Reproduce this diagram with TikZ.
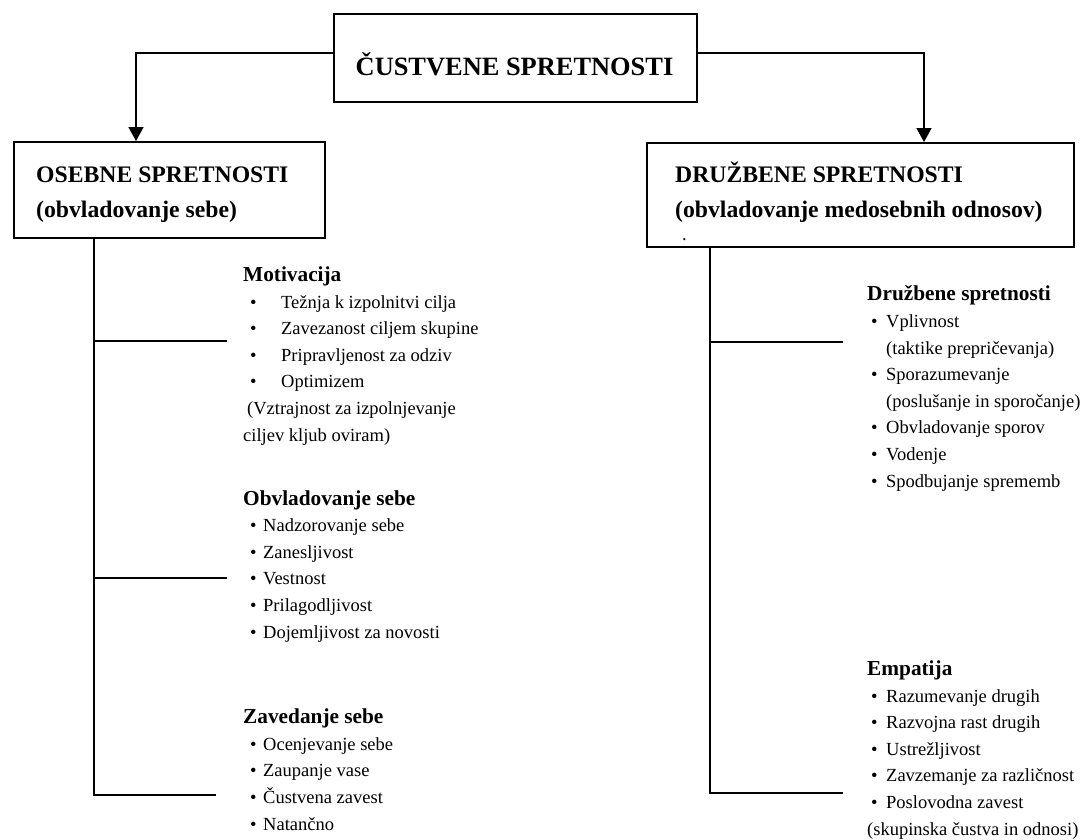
\documentclass[tikz,border=0pt]{standalone}
\usepackage{fontspec}
\setmainfont{Liberation Serif}
\usetikzlibrary{arrows.meta, positioning}

\tikzset{
  box/.style={draw, line width=1.6pt, inner sep=0pt},
  boxtext/.style={inner sep=0pt, align=left, font=\fontsize{23.7}{35}\selectfont\bfseries},
  titletext/.style={inner sep=0pt, font=\fontsize{26.4}{30}\selectfont\bfseries},
  group/.style={inner sep=0pt, align=left, anchor=base west, font=\fontsize{18.5}{26.6}\selectfont},
  conn/.style={line width=1.6pt},
  arr/.style={line width=1.6pt, -{Triangle[length=14pt,width=15pt]}}
}
\newcommand{\head}[1]{{\fontsize{21.3}{26.6}\selectfont\bfseries #1}}
\newcommand{\bul}[3]{\makebox[#2][l]{\hspace*{#1}\textbullet}#3}

\begin{document}
\begin{tikzpicture}[x=1pt,y=-1pt]
\useasboundingbox[fill=white] (0,0) rectangle (1083,839);

% boxes (text nodes sit on the baseline of their last line)
\node[box, anchor=north west, minimum width=363pt, minimum height=88pt] (custva) at (333,13) {};
\node[titletext, anchor=base] (custvaT) at (514.5,75) {ČUSTVENE SPRETNOSTI};

\node[box, anchor=north west, minimum width=311pt, minimum height=96pt] (osebne) at (13,141) {};
\node[boxtext, anchor=base west] (osebneT) at (36,217) {OSEBNE SPRETNOSTI\\(obvladovanje sebe)};

\node[box, anchor=north west, minimum width=427pt, minimum height=104pt] (druzbene) at (646,142) {};
\node[boxtext, anchor=base west] (druzbeneT) at (675,217) {DRUŽBENE SPRETNOSTI\\(obvladovanje medosebnih odnosov)};
\node[inner sep=0pt, anchor=base west, font=\fontsize{18.5}{20}\selectfont] (pika) at (682,240) {.};

% arrows from the top box
\draw[arr] ([yshift=5pt]custva.west) -| ([xshift=123pt]osebne.north west);
\draw[arr] ([yshift=5pt]custva.east) -| ([xshift=278pt]druzbene.north west);

% left column
\node[group] (motiv) at (243,441) {\head{Motivacija}\\
  \bul{7pt}{38pt}{Težnja k izpolnitvi cilja}\\
  \bul{7pt}{38pt}{Zavezanost ciljem skupine}\\
  \bul{7pt}{38pt}{Pripravljenost za odziv}\\
  \bul{7pt}{38pt}{Optimizem}\\
  \hspace*{4pt}(Vztrajnost za izpolnjevanje\\
  ciljev kljub oviram)};
\node[group] (obvlad) at (243,638) {\head{Obvladovanje sebe}\\
  \bul{7pt}{20pt}{Nadzorovanje sebe}\\
  \bul{7pt}{20pt}{Zanesljivost}\\
  \bul{7pt}{20pt}{Vestnost}\\
  \bul{7pt}{20pt}{Prilagodljivost}\\
  \bul{7pt}{20pt}{Dojemljivost za novosti}};
\node[group] (zaved) at (243,830) {\head{Zavedanje sebe}\\
  \bul{7pt}{20pt}{Ocenjevanje sebe}\\
  \bul{7pt}{20pt}{Zaupanje vase}\\
  \bul{7pt}{20pt}{Čustvena zavest}\\
  \bul{7pt}{20pt}{Natančno}};

% right column
\node[group] (druzsp) at (867,487) {\head{Družbene spretnosti}\\
  \bul{4pt}{19pt}{Vplivnost}\\
  \hspace*{19pt}(taktike prepričevanja)\\
  \bul{4pt}{19pt}{Sporazumevanje}\\
  \hspace*{19pt}(poslušanje in sporočanje)\\
  \bul{4pt}{19pt}{Obvladovanje sporov}\\
  \bul{4pt}{19pt}{Vodenje}\\
  \bul{4pt}{19pt}{Spodbujanje sprememb}};
\node[group] (empat) at (867,835) {\head{Empatija}\\
  \bul{4pt}{19pt}{Razumevanje drugih}\\
  \bul{4pt}{19pt}{Razvojna rast drugih}\\
  \bul{4pt}{19pt}{Ustrežljivost}\\
  \bul{4pt}{19pt}{Zavzemanje za različnost}\\
  \bul{4pt}{19pt}{Poslovodna zavest}\\
  (skupinska čustva in odnosi)};

% tree lines
\coordinate (ltrunk) at (94,795);
\coordinate (lb1) at (227,341);
\coordinate (lb2) at (227,578);
\coordinate (lb3) at (216,795);
\draw[conn] (ltrunk |- osebne.south) -- (ltrunk) -- (lb3);
\draw[conn] (ltrunk |- lb1) -- (lb1);
\draw[conn] (ltrunk |- lb2) -- (lb2);

\coordinate (rtrunk) at (710,793);
\coordinate (rb1) at (843,342);
\coordinate (rb2) at (843,793);
\draw[conn] (rtrunk |- druzbene.south) -- (rtrunk) -- (rb2);
\draw[conn] (rtrunk |- rb1) -- (rb1);
\end{tikzpicture}
\end{document}
